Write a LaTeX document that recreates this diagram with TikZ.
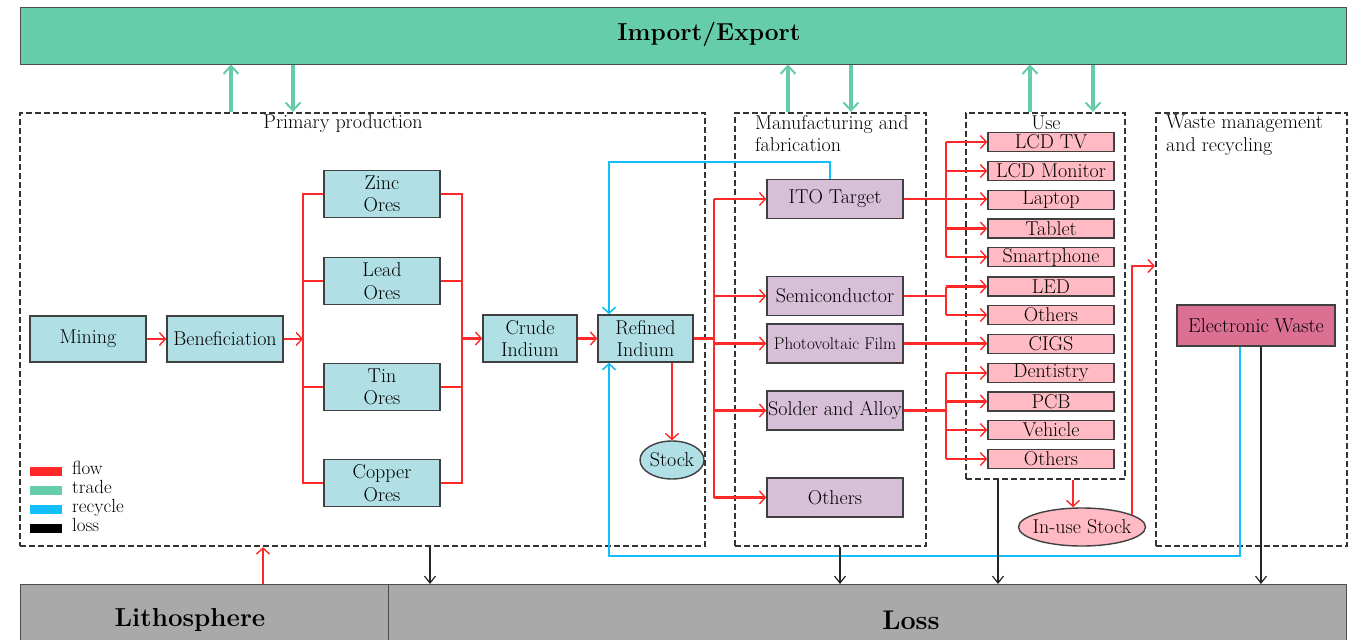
\documentclass[tikz,border=0pt]{standalone}
\usetikzlibrary{arrows.meta,shapes.geometric}
\definecolor{tradec}{RGB}{102,205,170}
\definecolor{flowc}{RGB}{255,40,40}
\definecolor{recyc}{RGB}{20,190,250}
\definecolor{orec}{RGB}{176,224,230}
\definecolor{manc}{RGB}{216,191,216}
\definecolor{usec}{RGB}{255,186,196}
\definecolor{wastec}{RGB}{219,112,147}
\definecolor{earthc}{RGB}{169,169,169}
\tikzset{
  txt/.style={font=\fontsize{20}{22.5}\selectfont},
  box/.style={draw=black!75, line width=1.4pt, inner sep=0pt, align=center, txt},
  orebox/.style={box, fill=orec, minimum width=116, minimum height=47},
  manbox/.style={box, fill=manc, minimum width=136, minimum height=39},
  usebox/.style={box, fill=usec, minimum width=126, minimum height=19},
  stage/.style={draw=black!80, line width=2.2pt, dash pattern=on 6pt off 3pt, minimum height=433, inner sep=0pt},
  bar/.style={draw=black!70, line width=1pt, inner sep=0pt},
  tip/.style={-{Straight Barb[length=6pt,width=13pt,line width=1.4pt]}},
  redline/.style={draw=flowc, line width=2.2pt},
  flow/.style={redline, tip},
  recline/.style={draw=recyc, line width=2.8pt, -{Straight Barb[length=6pt,width=13pt,line width=1.6pt]}},
  trade/.style={draw=tradec, line width=3.6pt, -{Straight Barb[length=8pt,width=15pt,line width=2pt]}},
  loss/.style={draw=black!85, line width=1.5pt, -{Straight Barb[length=7pt,width=11pt,line width=1.2pt]}},
  legbar/.style={minimum width=32, minimum height=9, inner sep=0pt},
  legtxt/.style={anchor=west, inner sep=0pt, font=\fontsize{19}{21}\selectfont, text height=11pt, text depth=3pt},
  title/.style={font=\fontsize{26}{30}\selectfont\bfseries}
}
\begin{document}
\begin{tikzpicture}[x=1pt, y=-1pt]
\useasboundingbox (0,0) rectangle (1355,640);
\clip (0,0) rectangle (1355,640);

% global boxes
\node[bar, fill=tradec, minimum width=1326, minimum height=57] (imp) at (683,35.5) {};
\node[font=\fontsize{24.5}{28}\selectfont\bfseries] (impt) at (709,34) {Import/Export};
\node[bar, fill=earthc, minimum width=368, minimum height=70, anchor=north west] (lith) at (20,584) {};
\node[bar, fill=earthc, minimum width=958, minimum height=70, anchor=north west] (lossb) at (388,584) {};
\node[title] (litht) at (190,620) {Lithosphere};
\node[title, font=\fontsize{27}{30}\selectfont\bfseries] (losst) at (911,620) {Loss};

% stages
\node[stage, minimum width=685] (prim) at (362.5,329.5) {};
\node[stage, minimum width=191] (manf) at (830.5,329.5) {};
\node[stage, minimum width=159, minimum height=366] (use) at (1045.5,296) {};
\node[stage, minimum width=191] (waste) at (1251.5,329.5) {};
\node[txt] (primt) at (343,124) {Primary production};
\node[txt, align=left, anchor=north west, inner sep=0pt] (manft) at (755,115) {Manufacturing and\\fabrication};
\node[txt] (uset) at (1046,123) {Use};
\node[txt, align=left, anchor=north west, inner sep=0pt] (wastet) at (1166,115) {Waste management\\and recycling};

% primary production
\node[orebox, minimum height=46] (mining) at (88,339) {Mining};
\node[orebox, minimum height=46] (benef) at (225,339) {Beneficiation};
\node[orebox] (zinc) at (382,194) {Zinc\\Ores};
\node[orebox] (lead) at (382,281) {Lead\\Ores};
\node[orebox] (tin) at (382,387) {Tin\\Ores};
\node[orebox] (copper) at (382,483) {Copper\\Ores};
\node[orebox, minimum width=94] (crude) at (530,338.5) {Crude\\Indium};
\node[orebox, minimum width=95] (refined) at (645.5,338.5) {Refined\\Indium};
\node[box, ellipse, fill=orec, minimum width=64, minimum height=38, inner xsep=-4pt] (stock) at (672,460) {Stock};

% manufacturing
\node[manbox] (ito) at (835,199) {ITO Target};
\node[manbox] (semi) at (835,296) {Semiconductor};
\node[manbox, font=\fontsize{17}{19}\selectfont] (pv) at (835,343.5) {Photovoltaic Film};
\node[manbox] (solder) at (835,410.5) {Solder and Alloy};
\node[manbox] (mothers) at (835,497.5) {Others};

% use
\node[usebox] (tv) at (1051,142) {LCD TV};
\node[usebox] (mon) at (1051,171) {LCD Monitor};
\node[usebox] (laptop) at (1051,200) {Laptop};
\node[usebox] (tablet) at (1051,228.5) {Tablet};
\node[usebox] (phone) at (1051,257) {Smartphone};
\node[usebox] (led) at (1051,286.5) {LED};
\node[usebox] (uoth1) at (1051,315) {Others};
\node[usebox] (cigs) at (1051,344) {CIGS};
\node[usebox] (dent) at (1051,373) {Dentistry};
\node[usebox] (pcb) at (1051,401.5) {PCB};
\node[usebox] (veh) at (1051,430) {Vehicle};
\node[usebox] (uoth2) at (1051,459) {Others};
\node[box, ellipse, fill=usec, minimum width=127, minimum height=38, inner xsep=-13pt] (instock) at (1082,527) {In-use Stock};

% waste
\node[box, fill=wastec, minimum width=158, minimum height=41] (ewaste) at (1256,325.5) {Electronic Waste};

% helper positions
\coordinate (bl) at (303,0);
\coordinate (br) at (462,0);
\coordinate (bm) at (714,0);
\coordinate (bu) at (946,0);
\coordinate (sx) at (672,0);
\coordinate (ux) at (1073,0);
\coordinate (wy) at (0,266);
\coordinate (rb) at (609,556);
\coordinate (rt) at (609,162);
\coordinate (ix) at (830,0);
\coordinate (ex) at (1240,0);
\coordinate (lx) at (1261,0);
\coordinate (t1) at (231,0);
\coordinate (t2) at (293,0);
\coordinate (t3) at (788,0);
\coordinate (t4) at (851,0);
\coordinate (t5) at (1030,0);
\coordinate (t6) at (1093,0);
\coordinate (l1) at (430,0);
\coordinate (l2) at (840,0);
\coordinate (l3) at (998,0);
\coordinate (g1) at (263,0);

% flows in primary production
\draw[flow] (mining.east) -- (benef.west);
\draw[flow] (benef.east) -- (benef.east -| bl);
\draw[redline] (zinc.west) -| (bl |- copper.west) -- (copper.west);
\draw[redline] (lead.west) -- (lead.west -| bl);
\draw[redline] (tin.west) -- (tin.west -| bl);
\draw[redline] (zinc.east) -| (br |- copper.east) -- (copper.east);
\draw[redline] (lead.east) -- (lead.east -| br);
\draw[redline] (tin.east) -- (tin.east -| br);
\draw[flow] (br |- crude.west) -- (crude.west);
\draw[flow] (crude.east) -- (refined.west);
\draw[flow] (refined.south -| sx) -- (stock.north);

% flows to manufacturing
\draw[redline] (refined.east) -- (refined.east -| bm);
\draw[redline] (bm |- ito.west) -- (bm |- mothers.west);
\foreach \n in {ito,semi,pv,solder,mothers}
  \draw[flow] (bm |- \n.west) -- (\n.west);

% flows to use
\draw[flow] (ito.east) -- (ito.east -| laptop.west);
\draw[redline] (bu |- tv.west) -- (bu |- phone.west);
\foreach \n in {tv,mon,tablet,phone}
  \draw[flow] (bu |- \n.west) -- (\n.west);
\draw[redline] (semi.east) -- (semi.east -| bu);
\draw[redline] (bu |- led.west) -- (bu |- uoth1.west);
\foreach \n in {led,uoth1}
  \draw[flow] (bu |- \n.west) -- (\n.west);
\draw[flow] (pv.east) -- (pv.east -| cigs.west);
\draw[redline] (solder.east) -- (solder.east -| bu);
\draw[redline] (bu |- dent.west) -- (bu |- uoth2.west);
\foreach \n in {dent,pcb,veh,uoth2}
  \draw[flow] (bu |- \n.west) -- (\n.west);

% stock and end of life
\draw[flow] (use.south -| ux) -- (instock.north -| ux);
\draw[flow] (instock.14) |- (waste.west |- wy);

% recycling
\draw[recline] (ewaste.south -| ex) |- (rb) -- (rb |- refined.south);
\draw[recline] (ito.north -| ix) |- (rt) -- (rt |- refined.north);

% losses and extraction
\draw[loss] (prim.south -| l1) -- (lossb.north -| l1);
\draw[loss] (manf.south -| l2) -- (lossb.north -| l2);
\draw[loss] (use.south -| l3) -- (lossb.north -| l3);
\draw[loss] (ewaste.south -| lx) -- (lossb.north -| lx);
\draw[flow] (lith.north -| g1) -- (prim.south -| g1);

% trade
\draw[trade] (prim.north -| t1) -- (imp.south -| t1);
\draw[trade] (imp.south -| t2) -- (prim.north -| t2);
\draw[trade] (manf.north -| t3) -- (imp.south -| t3);
\draw[trade] (imp.south -| t4) -- (manf.north -| t4);
\draw[trade] (use.north -| t5) -- (imp.south -| t5);
\draw[trade] (imp.south -| t6) -- (use.north -| t6);

% legend
\node[legbar, fill=flowc] (lg1) at (46,471) {};
\node[legbar, fill=tradec] (lg2) at (46,490) {};
\node[legbar, fill=recyc] (lg3) at (46,509) {};
\node[legbar, fill=black] (lg4) at (46,528) {};
\node[legtxt] (lt1) at (72,470) {flow};
\node[legtxt] (lt2) at (72,489) {trade};
\node[legtxt] (lt3) at (72,508) {recycle};
\node[legtxt] (lt4) at (72,527) {loss};
\end{tikzpicture}
\end{document}
